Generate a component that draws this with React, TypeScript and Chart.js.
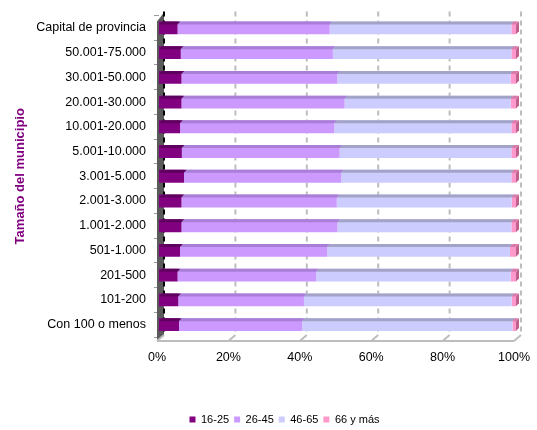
import React, { useEffect, useRef } from "react";
import { Chart, registerables } from "chart.js";

Chart.register(...registerables);

const categories = [
  "Capital de provincia",
  "50.001-75.000",
  "30.001-50.000",
  "20.001-30.000",
  "10.001-20.000",
  "5.001-10.000",
  "3.001-5.000",
  "2.001-3.000",
  "1.001-2.000",
  "501-1.000",
  "201-500",
  "101-200",
  "Con 100 o menos",
];
const seriesNames = ["16-25", "26-45", "46-65", "66 y más"];
const s16_25 = [5.2, 6.1, 6.3, 6.3, 5.9, 6.4, 7.0, 6.3, 6.3, 5.9, 5.2, 5.4, 5.6];
const s26_45 = [42.6, 42.6, 43.6, 45.7, 43.2, 44.2, 44.0, 43.5, 43.7, 41.2, 38.8, 35.2, 34.5];
const s46_65 = [50.9, 50.0, 48.6, 46.5, 49.6, 48.1, 47.7, 49.0, 48.7, 51.2, 54.5, 58.2, 58.9];
const s66 = [1.3, 1.3, 1.5, 1.5, 1.3, 1.3, 1.3, 1.2, 1.3, 1.7, 1.5, 1.2, 1.0];
const xTicks = [0, 20, 40, 60, 80, 100];
const axisTitle = "Tamaño del municipio";

const frontColors = ["#800080", "#CC99FF", "#CCCCFF", "#FF99CC"];
const topColors = ["#5E005E", "#A87ED6", "#A3A3C8", "#D97AA8"];
const sideColor = "#C0608F";

const FONT = "'Liberation Sans', Arial, sans-serif";

const legendShift = {
  id: "legendShift",
  afterLayout(chart: any) {
    const lg = chart.legend;
    if (lg) {
      lg.left += 23;
      lg.right += 23;
    }
  },
};

const deco = {
  id: "deco",
  beforeDatasetsDraw(chart: any) {
    const { ctx, chartArea: a, scales } = chart;
    const x = scales.x;
    const x0 = x.getPixelForValue(0);
    ctx.save();
    // left wall
    ctx.fillStyle = "#5a5a5a";
    ctx.beginPath();
    ctx.moveTo(x0 - 2, a.top + 6);
    ctx.lineTo(x0 + 5, a.top - 3);
    ctx.lineTo(x0 + 5, a.bottom - 2);
    ctx.lineTo(x0 - 2, a.bottom + 4);
    ctx.closePath();
    ctx.fill();
    // back wall grid lines
    ctx.lineWidth = 2;
    xTicks.forEach((v) => {
      const px = x.getPixelForValue(v);
      ctx.strokeStyle = v === 0 ? "#000000" : "#BDBDBD";
      ctx.setLineDash([5, 4]);
      ctx.beginPath();
      ctx.moveTo(px + 5, a.top - 4);
      ctx.lineTo(px + 5, a.bottom - 2);
      ctx.stroke();
      ctx.setLineDash([]);
      ctx.strokeStyle = "#BDBDBD";
      ctx.beginPath();
      ctx.moveTo(px + 5, a.bottom - 2);
      ctx.lineTo(px - 2, a.bottom + 4);
      ctx.stroke();
    });
    // floor front edge
    ctx.strokeStyle = "#BDBDBD";
    ctx.beginPath();
    ctx.moveTo(x.getPixelForValue(0) - 2, a.bottom + 4);
    ctx.lineTo(x.getPixelForValue(100) - 2, a.bottom + 4);
    ctx.stroke();
    ctx.restore();
  },
  afterDatasetsDraw(chart: any) {
    const { ctx } = chart;
    const d = 3;
    ctx.save();
    chart.data.datasets.forEach((ds: any, i: number) => {
      const meta = chart.getDatasetMeta(i);
      meta.data.forEach((bar: any) => {
        const p = bar.getProps(["x", "y", "base", "height"], true);
        const top = p.y - p.height / 2;
        const bottom = p.y + p.height / 2;
        const xs = Math.min(p.base, p.x);
        const xe = Math.max(p.base, p.x);
        ctx.fillStyle = topColors[i];
        ctx.beginPath();
        ctx.moveTo(xs, top + d);
        ctx.lineTo(xs + d, top);
        ctx.lineTo(xe + d, top);
        ctx.lineTo(xe, top + d);
        ctx.closePath();
        ctx.fill();
        if (i === chart.data.datasets.length - 1) {
          ctx.fillStyle = sideColor;
          ctx.beginPath();
          ctx.moveTo(xe, top + d);
          ctx.lineTo(xe + d, top);
          ctx.lineTo(xe + d, bottom - d);
          ctx.lineTo(xe, bottom);
          ctx.closePath();
          ctx.fill();
        }
      });
    });
    ctx.restore();
  },
};

export default function App() {
  const ref = useRef<HTMLCanvasElement | null>(null);
  useEffect(() => {
    if (!ref.current) return;
    const series = [s16_25, s26_45, s46_65, s66];
    const chart = new Chart(ref.current, {
      type: "bar",
      data: {
        labels: categories,
        datasets: series.map((vals, i) => ({
          label: seriesNames[i],
          data: vals,
          backgroundColor: frontColors[i],
          borderWidth: 0,
          barPercentage: 0.52,
          categoryPercentage: 1,
        })),
      },
      options: {
        indexAxis: "y",
        animation: false,
        responsive: true,
        maintainAspectRatio: false,
        layout: { padding: { top: 12, right: 14, bottom: -5, left: 0 } },
        plugins: {
          tooltip: { enabled: false },
          legend: {
            position: "bottom",
            labels: {
              boxWidth: 6,
              boxHeight: 6,
              padding: 5,
              color: "#000",
              font: { size: 11, family: FONT },
            },
          },
        },
        scales: {
          x: {
            stacked: true,
            min: 0,
            max: 100,
            afterBuildTicks: (s: any) => {
              s.ticks = xTicks.map((v) => ({ value: v }));
            },
            afterFit: (s: any) => {
              s.height = 72;
            },
            grid: { display: false },
            border: { display: false },
            ticks: {
              padding: 5,
              labelOffset: -2,
              color: "#000",
              font: { size: 12.5, family: FONT },
              callback: (v: any) => v + "%",
            },
          },
          y: {
            stacked: true,
            afterFit: (s: any) => {
              s.width = 159;
            },
            grid: {
              display: true,
              drawOnChartArea: false,
              tickLength: 5,
              color: "#9a9a9a",
            },
            border: { display: false },
            ticks: {
              padding: 8,
              color: "#000",
              font: { size: 12.5, family: FONT },
            },
            title: {
              display: true,
              text: axisTitle,
              color: "#800080",
              font: { size: 13, weight: "bold", family: FONT },
              padding: { top: 13, bottom: 0 },
            },
          },
        },
      },
      plugins: [deco, legendShift],
    });
    return () => chart.destroy();
  }, []);
  return (
    <div style={{ position: "absolute", left: 0, top: 0, width: 537, height: 430 }}>
      <canvas ref={ref} />
    </div>
  );
}
